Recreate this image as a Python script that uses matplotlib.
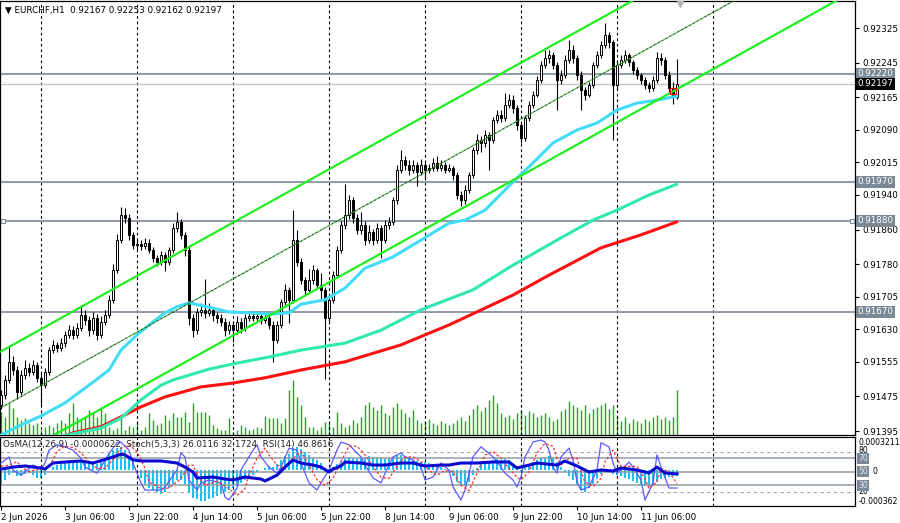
import matplotlib
matplotlib.use("Agg")
import matplotlib.pyplot as plt

# ---------------- data ----------------
symbol_title = "\u25BC EURCHF,H1  0.92167 0.92253 0.92162 0.92197"
ind_title = "OsMA(12,26,9) -0.0000622  Stoch(5,3,3) 26.0116 32.1724  RSI(14) 46.8616"

first_open = 0.91455
closes = [0.91478,0.91513,0.91554,0.91536,0.91485,0.91525,0.91541,0.91531,0.91548,0.91518,
          0.91501,0.91531,0.91582,0.91594,0.91587,0.91598,0.91617,0.91628,0.91617,0.91633,
          0.91663,0.91651,0.91628,0.91656,0.91617,0.91647,0.91663,0.91698,0.91767,0.91836,
          0.91894,0.91887,0.91848,0.91825,0.91827,0.91822,0.91829,0.91813,0.91795,0.91785,
          0.91801,0.91785,0.91813,0.91864,0.91878,0.91848,0.91813,0.91656,0.91628,0.91670,
          0.91675,0.91668,0.91675,0.91663,0.91656,0.91647,0.91628,0.91640,0.91628,0.91647,
          0.91633,0.91656,0.91661,0.91656,0.91661,0.91651,0.91656,0.91640,0.91605,0.91640,
          0.91693,0.91721,0.91698,0.91836,0.91785,0.91744,0.91721,0.91744,0.91767,0.91732,
          0.91721,0.91656,0.91698,0.91755,0.91813,0.91871,0.91894,0.91928,0.91887,0.91859,
          0.91871,0.91836,0.91855,0.91836,0.91864,0.91836,0.91871,0.91878,0.91928,0.91998,
          0.92021,0.92009,0.91998,0.92009,0.91993,0.92009,0.91998,0.92002,0.92014,0.92002,
          0.92009,0.91998,0.92002,0.91986,0.91940,0.91928,0.91951,0.91986,0.92044,0.92067,
          0.92060,0.92078,0.92067,0.92113,0.92125,0.92118,0.92148,0.92159,0.92141,0.92101,
          0.92071,0.92118,0.92148,0.92171,0.92205,0.92240,0.92256,0.92263,0.92240,0.92205,
          0.92217,0.92252,0.92275,0.92256,0.92217,0.92182,0.92171,0.92194,0.92240,0.92263,
          0.92286,0.92309,0.92293,0.92194,0.92240,0.92252,0.92263,0.92247,0.92228,0.92217,
          0.92205,0.92194,0.92187,0.92205,0.92256,0.92252,0.92217,0.92187,0.92167,0.92197]
highs = [0.91490,0.91525,0.91590,0.91568,0.91545,0.91535,0.91560,0.91552,0.91560,0.91555,
         0.91528,0.91540,0.91590,0.91605,0.91600,0.91610,0.91625,0.91640,0.91637,0.91645,
         0.91685,0.91675,0.91660,0.91670,0.91665,0.91660,0.91675,0.91710,0.91780,0.91850,
         0.91912,0.91910,0.91895,0.91855,0.91840,0.91835,0.91840,0.91838,0.91820,0.91802,
         0.91810,0.91808,0.91820,0.91875,0.91900,0.91885,0.91855,0.91820,0.91665,0.91680,
         0.91690,0.91745,0.91690,0.91682,0.91670,0.91665,0.91655,0.91650,0.91648,0.91660,
         0.91655,0.91665,0.91670,0.91668,0.91670,0.91668,0.91665,0.91662,0.91648,0.91650,
         0.91700,0.91735,0.91728,0.91905,0.91860,0.91795,0.91750,0.91770,0.91778,0.91772,
         0.91760,0.91728,0.91710,0.91765,0.91822,0.91880,0.91965,0.91940,0.91935,0.91895,
         0.91900,0.91880,0.91870,0.91862,0.91875,0.91870,0.91882,0.91890,0.91935,0.92010,
         0.92044,0.92030,0.92020,0.92020,0.92015,0.92022,0.92015,0.92012,0.92025,0.92030,
         0.92020,0.92015,0.92012,0.92008,0.91992,0.91950,0.91962,0.91992,0.92050,0.92080,
         0.92075,0.92090,0.92085,0.92120,0.92135,0.92135,0.92175,0.92172,0.92170,0.92148,
         0.92108,0.92125,0.92158,0.92180,0.92215,0.92250,0.92275,0.92275,0.92270,0.92248,
         0.92228,0.92262,0.92298,0.92285,0.92262,0.92225,0.92190,0.92200,0.92248,0.92272,
         0.92295,0.92338,0.92315,0.92298,0.92250,0.92262,0.92275,0.92268,0.92252,0.92235,
         0.92222,0.92212,0.92200,0.92215,0.92270,0.92268,0.92258,0.92225,0.92200,0.92253]
lows = [0.91445,0.91470,0.91505,0.91525,0.91470,0.91478,0.91515,0.91522,0.91525,0.91508,
        0.91455,0.91495,0.91525,0.91575,0.91578,0.91580,0.91590,0.91610,0.91608,0.91610,
        0.91625,0.91640,0.91615,0.91620,0.91605,0.91610,0.91640,0.91655,0.91690,0.91760,
        0.91828,0.91875,0.91835,0.91815,0.91815,0.91812,0.91815,0.91805,0.91785,0.91775,
        0.91778,0.91765,0.91778,0.91805,0.91855,0.91838,0.91800,0.91640,0.91612,0.91620,
        0.91660,0.91655,0.91660,0.91650,0.91645,0.91638,0.91615,0.91620,0.91600,0.91620,
        0.91622,0.91625,0.91648,0.91648,0.91650,0.91642,0.91645,0.91630,0.91555,0.91598,
        0.91632,0.91685,0.91645,0.91690,0.91775,0.91735,0.91710,0.91715,0.91735,0.91722,
        0.91700,0.91515,0.91645,0.91690,0.91748,0.91805,0.91862,0.91885,0.91875,0.91850,
        0.91850,0.91825,0.91828,0.91825,0.91830,0.91795,0.91828,0.91862,0.91870,0.91920,
        0.91990,0.91998,0.91985,0.91990,0.91960,0.91985,0.91975,0.91990,0.91995,0.91995,
        0.91995,0.91990,0.91992,0.91975,0.91930,0.91915,0.91920,0.91945,0.91980,0.92035,
        0.92040,0.92050,0.91998,0.92060,0.92105,0.92108,0.92110,0.92140,0.92130,0.92090,
        0.92060,0.92065,0.92110,0.92140,0.92165,0.92198,0.92232,0.92245,0.92230,0.92136,
        0.92195,0.92210,0.92245,0.92245,0.92205,0.92136,0.92160,0.92165,0.92188,0.92232,
        0.92255,0.92280,0.92280,0.92067,0.92185,0.92232,0.92245,0.92238,0.92220,0.92208,
        0.92195,0.92185,0.92178,0.92180,0.92198,0.92240,0.92208,0.92175,0.92150,0.92162]
volumes = [690,540,960,810,540,450,510,360,300,360,150,240,300,240,360,450,360,660,960,540,
           450,540,750,660,540,840,660,240,150,210,510,150,270,240,390,150,240,660,450,300,
           360,600,450,
           660,540,540,690,390,960,690,690,690,600,300,210,150,150,510,90,150,300,240,150,
           180,240,210,570,510,510,510,360,510,1350,1650,1140,900,540,240,240,150,240,390,360,
           240,690,
           360,240,300,450,360,540,900,990,840,750,900,660,600,840,960,780,660,540,750,450,
           360,420,480,360,300,420,360,300,360,450,540,420,600,780,900,720,840,1050,1200,960,
           660,540,600,480,660,750,600,720,660,540,600,660,540,420,480,720,780,1020,900,840,
           750,900,660,780,840,900,960,780,900,600,420,540,360,480,420,360,480,420,540,600,
           480,540,450,540,1350]

ma_fast_idx = [0,5,10,16,22,27,30,34,38,41,44,47,52,57,62,67,72,75,81,86,91,98,105,112,116,121,128,132,138,144,149,154,159,164,169]
ma_fast = [0.91386,0.91409,0.91430,0.91460,0.91501,0.91536,0.91582,0.91617,0.91647,0.91668,0.91682,0.91691,0.91681,0.91670,0.91668,
           0.91665,0.91668,0.91688,0.91698,0.91725,0.91771,0.91797,0.91836,0.91875,0.91882,0.91905,0.91970,0.92005,0.92060,0.92090,
           0.92106,0.92136,0.92152,0.92159,0.92168]
ma_mid_idx = [15,25,30,35,40,43,52,59,67,75,86,95,105,118,128,140,148,154,162,169]
ma_mid = [0.91383,0.91402,0.91425,0.91467,0.91501,0.91513,0.91538,0.91552,0.91566,0.91582,
          0.91598,0.91628,0.91675,0.91721,0.91778,0.91841,0.91882,0.91905,0.91940,0.91965]
ma_slow_idx = [10,18,25,30,35,41,50,58,66,75,86,100,112,128,137,150,160,169]
ma_slow = [0.91363,0.91391,0.91405,0.91428,0.91451,0.91474,0.91497,0.91506,0.91518,0.91536,
           0.91555,0.91594,0.91640,0.91709,0.91755,0.91818,0.91848,0.91878]

chan_idx = [0, 215]
chan_upper = [0.91579, 0.92681]
chan_mid = [0.91449, 0.92551]
chan_lower = [0.91318, 0.92420]

hlines_dark = [0.92220, 0.91970, 0.91880, 0.91670]
bid_price = 0.92197
price_ticks = [0.92325,0.92245,0.92165,0.92090,0.92015,0.91940,0.91860,0.91780,0.91705,0.91630,0.91555,0.91475,0.91395]
marker_bar, marker_price = 168, 0.92180

day_lines = [10, 34, 58, 82, 106, 130, 154, 178]
time_idx = [0, 16, 32, 48, 64, 80, 96, 112, 128, 144, 160]
time_labels = ["2 Jun 2026", "3 Jun 06:00", "3 Jun 22:00", "4 Jun 14:00", "5 Jun 06:00", "5 Jun 22:00",
               "8 Jun 14:00", "9 Jun 06:00", "9 Jun 22:00", "10 Jun 14:00", "11 Jun 06:00"]

osma = [-15e-5,-10e-5,-5e-5,-3e-5,-6e-5,-6e-5,-4e-5,-3e-5,-5e-5,-8e-5,
        -8e-5,-5e-5,0,3e-5,5e-5,6e-5,8e-5,9e-5,8e-5,9e-5,
        10e-5,8e-5,7e-5,8e-5,6e-5,8e-5,12e-5,16e-5,20e-5,22e-5,
        23e-5,20e-5,14e-5,8e-5,0,-8e-5,-14e-5,-18e-5,-20e-5,-22e-5,
        -24e-5,-22e-5,-18e-5,-14e-5,-10e-5,-10e-5,-14e-5,-22e-5,-28e-5,-30e-5,
        -32e-5,-32e-5,-30e-5,-28e-5,-26e-5,-24e-5,-22e-5,-20e-5,-18e-5,-15e-5,
        -13e-5,-10e-5,-8e-5,-5e-5,-2e-5,0,2e-5,4e-5,3e-5,6e-5,
        10e-5,14e-5,16e-5,22e-5,23e-5,21e-5,18e-5,15e-5,12e-5,10e-5,
        7e-5,2e-5,1e-5,3e-5,6e-5,9e-5,11e-5,13e-5,12e-5,11e-5,
        12e-5,13e-5,14e-5,13e-5,13e-5,12e-5,11e-5,12e-5,13e-5,15e-5,
        15e-5,14e-5,12e-5,10e-5,9e-5,8e-5,8e-5,7e-5,6e-5,5e-5,
        3e-5,1e-5,-2e-5,-6e-5,-12e-5,-16e-5,-16e-5,-12e-5,-5e-5,2e-5,
        6e-5,8e-5,9e-5,10e-5,11e-5,10e-5,11e-5,10e-5,6e-5,2e-5,
        -1e-5,2e-5,5e-5,8e-5,10e-5,12e-5,13e-5,14e-5,12e-5,8e-5,
        3e-5,-2e-5,-6e-5,-10e-5,-14e-5,-20e-5,-22e-5,-18e-5,-14e-5,-9e-5,
        -4e-5,0,-1e-5,-4e-5,-5e-5,-6e-5,-8e-5,-9e-5,-11e-5,-13e-5,
        -15e-5,-16e-5,-17e-5,-16e-5,-12e-5,-9e-5,-8e-5,-7e-5,-6e-5,-6.22e-5]

st_idx = [0,2,3,5,6,8,10,11,12,14,16,18,20,21,24,25,27,29,30,32,33,35,36,40,41,44,45,46,47,49,
          50,52,55,56,57,59,60,63,64,65,67,69,70,72,74,75,77,79,80,82,84,85,87,90,91,93,95,96,98,100,
          101,103,105,106,108,110,112,113,115,116,118,120,121,123,125,126,128,129,130,131,
          133,135,136,137,138,139,140,142,143,144,145,147,149,150,152,153,154,155,157,158,
          160,161,163,164,165,167,169]
st_main = [63,72,52.6,45,49.7,60,54,63,82,90,87,82,70,57,48,57,77,93,94,82,63,33.5,23,23,27.6,52.6,78,72,38,23,
           33.5,38,33.5,12.7,8.3,26,52.6,82,90,72,57,48,57,85,82,63,33.5,23,33.5,52.6,82,94,90,72,60,41,33.5,48,72,78,
           72,67.5,57,37.9,42.3,63,52.6,27.6,8.3,23,72,87,82,72,57,48,37.9,27.6,42.3,72,
           94,97,94,82,57,48,72,85,67.5,35,23,27.6,52.6,93,87,63,48,52.6,64.5,57,
           37.9,8.3,33.5,75,57,26,26.01]
sg_idx = [0,2,4,5,7,8,10,12,13,14,16,18,20,22,24,26,28,30,32,34,36,37,40,42,45,47,48,49,51,52,
          54,57,59,61,62,64,66,67,69,71,73,75,77,79,81,83,85,87,89,91,93,95,97,99,101,103,105,107,109,111,
          113,115,117,119,121,123,125,127,129,130,132,134,136,138,139,140,142,144,145,146,
          148,150,151,153,154,155,157,159,161,162,164,165,167,169]
st_signal = [58,60,65,58,50,52,55,58,68,80,88,86,78,65,55,55,68,85,90,80,55,35,25,26,40,60,60,45,30,32,
             36,25,15,25,45,70,85,75,60,55,70,80,60,38,30,40,65,88,88,75,58,42,40,58,72,72,65,52,45,52,
             50,30,22,48,75,80,70,55,42,38,50,78,92,88,70,60,70,70,50,35,
             28,40,65,82,70,58,58,58,40,25,35,55,50,32.17]
rsi_idx = [0,3,6,10,11,13,16,20,23,27,30,31,33,35,40,44,46,48,49,53,56,58,61,65,66,69,71,73,75,78,
           80,82,83,85,86,90,93,96,100,103,106,110,112,115,119,123,127,129,130,134,139,141,144,147,150,
           153,155,159,162,164,166,169]
rsi = [54,57,58.6,55.6,54,63,64.5,66,63,70,76,75,67.5,66,66,63,57,49.7,40.8,42.3,39.3,37.9,42.3,39.3,36.4,45,57,67.5,63,60,
       57,49.7,54,58.6,64.5,63,60,60,63,63,58.6,60,60,63,63,64.5,64.5,55.6,57,63,60,66,58.6,49.7,52.7,
       51.2,55.6,52.7,48.2,57,48.2,46.86]

# ---------------- layout ----------------
W, H = 900, 523
fig = plt.figure(figsize=(W / 100, H / 100), dpi=100, facecolor="white")


def fpos(x0, y0, x1, y1):
    return [x0 / W, 1 - y1 / H, (x1 - x0) / W, (y1 - y0) / H]


FS = 6.3
FS_SMALL = 5.6
XL = (-0.25, 213.5)

ax_v = fig.add_axes(fpos(0, 1, 855, 435), zorder=1)
ax = fig.add_axes(fpos(0, 1, 855, 435), zorder=2)
ax.patch.set_visible(False)
for a in (ax, ax_v):
    a.set_xlim(*XL)
ax.set_ylim(0.913860, 0.923877)
ax_v.set_ylim(0, 13020)
ax_v.set_xticks([]); ax_v.set_yticks([])
for s in ax_v.spines.values():
    s.set_visible(False)

# volumes
n = len(closes)
idx = list(range(n))
ax_v.vlines(idx, 0, volumes, color="#2f9a2f", lw=1.0)

# grid verticals
for d in day_lines:
    ax.axvline(d, color="black", lw=0.8, ls=(0, (2.5, 2.5)), zorder=1)

# horizontal lines
for p in hlines_dark:
    ax.axhline(p, color="#8693a1", lw=1.3, zorder=2)
ax.axhline(bid_price, color="#c4c8cc", lw=1.0, zorder=2)
ax.plot([3 / 855, 852 / 855], [0.91880, 0.91880], "s", mfc="white", mec="#7b8896", ms=3.5, mew=0.8,
        transform=ax.get_yaxis_transform(), zorder=3, clip_on=False)

# candles
opens = [first_open] + closes[:-1]
bottoms = [min(o, c) for o, c in zip(opens, closes)]
heights = [max(abs(c - o), 0.000012) for o, c in zip(opens, closes)]
fcs = ["white" if c >= o else "black" for o, c in zip(opens, closes)]
ax.vlines(idx, lows, highs, color="black", lw=0.8, zorder=4)
ax.bar(idx, heights, width=0.7, bottom=bottoms, color=fcs, edgecolor="black", linewidth=0.7, zorder=5)

# moving averages
ax.plot(ma_slow_idx, ma_slow, color="#ff1010", lw=2.2, zorder=6, solid_capstyle="round", solid_joinstyle="round")
ax.plot(ma_mid_idx, ma_mid, color="#30e8b0", lw=2.2, zorder=6, solid_capstyle="round", solid_joinstyle="round")
ax.plot(ma_fast_idx, ma_fast, color="#40dcf8", lw=2.2, zorder=6, solid_capstyle="round", solid_joinstyle="round")

# channel
ax.plot(chan_idx, chan_upper, color="#1fee1f", lw=1.6, zorder=7)
ax.plot(chan_idx, chan_lower, color="#1fee1f", lw=1.6, zorder=7)
ax.plot(chan_idx, chan_mid, color="#333333", lw=0.8, ls=(0, (2, 2)), zorder=7)
ax.plot(chan_idx, chan_mid, color="#22cc22", lw=0.8, ls=(2, (2, 2)), zorder=7)

ax.plot([marker_bar], [marker_price], "s", mfc="none", mec="red", ms=5, mew=0.9, zorder=8)
ax.plot([680 / 855], [0.992], marker="v", color="#b5b5b5", ms=5, transform=ax.transAxes, clip_on=False, zorder=8)

# axes styling main
ax.set_xticks([])
ax.yaxis.tick_right()
ax.set_yticks(price_ticks)
ax.set_yticklabels([f"{p:.5f}" for p in price_ticks])
ax.tick_params(axis="y", direction="out", length=3, width=0.8, labelsize=FS, pad=2, colors="black")
for s in ax.spines.values():
    s.set_linewidth(0.9)
    s.set_color("black")

ytr = ax.get_yaxis_transform()
for p in hlines_dark:
    ax.text(1.003, p, f"{p:.5f}", transform=ytr, fontsize=FS, color="white", va="center", ha="left",
            bbox=dict(boxstyle="square,pad=0.18", fc="#7b8896", ec="none"), clip_on=False, zorder=10)
ax.text(1.003, bid_price, f"{bid_price:.5f}", transform=ytr, fontsize=FS, color="white", va="center", ha="left",
        bbox=dict(boxstyle="square,pad=0.18", fc="black", ec="none"), clip_on=False, zorder=10)

fig.text(5 / W, 1 - 10 / H, symbol_title, fontsize=FS, va="center", ha="left", color="black")

# ---------------- indicator panel ----------------
ind_o = fig.add_axes(fpos(0, 437, 855, 506), zorder=1)
ind = fig.add_axes(fpos(0, 437, 855, 506), zorder=2)
ind.patch.set_visible(False)
for a in (ind, ind_o):
    a.set_xlim(*XL)
ind.set_ylim(-0.6, 101.5)
ind_o.set_ylim(-0.0003659, 0.0003315)
ind_o.set_xticks([]); ind_o.set_yticks([])
for s in ind_o.spines.values():
    s.set_visible(False)

for lv in (80, 20):
    ind.axhline(lv, color="#a8a8a8", lw=0.8, ls=(0, (3, 3)), zorder=1)
for lv in (70, 50, 30):
    ind.axhline(lv, color="#8f9aa6", lw=1.1, zorder=1)
for d in day_lines:
    ind.axvline(d, color="black", lw=0.8, ls=(0, (2.5, 2.5)), zorder=1)

ind_o.bar(idx, osma, width=0.55, color="#1cc0f4", zorder=2)
ind.plot(st_idx, st_main, color="#5a5aff", lw=0.9, zorder=3)
ind.plot(sg_idx, st_signal, color="#ff3030", lw=0.9, ls=(0, (2, 1.6)), zorder=3)
ind.plot(rsi_idx, rsi, color="#0a0ad0", lw=2.2, zorder=4)

ind.set_yticks([])
ind.set_xticks(time_idx)
ind.set_xticklabels(time_labels, ha="left")
ind.tick_params(axis="x", direction="out", length=3, width=0.8, labelsize=FS, pad=2, colors="black")
for s in ind.spines.values():
    s.set_linewidth(0.9)
    s.set_color("black")

itr = ind.get_yaxis_transform()
ind.text(1.004, 93.5, "0.0003211", transform=itr, fontsize=FS_SMALL, va="center", ha="left", clip_on=False)
ind.text(1.004, 6.5, "-0.000362", transform=itr, fontsize=FS_SMALL, va="center", ha="left", clip_on=False)
ind.text(1.004, 81, "80", transform=itr, fontsize=FS_SMALL, va="center", ha="left", clip_on=False)
ind.text(1.004, 20.5, "20", transform=itr, fontsize=FS_SMALL, va="center", ha="left", clip_on=False)
ind.text(1.004 + 14 / 855, 50, "0", transform=itr, fontsize=FS_SMALL, va="center", ha="left", clip_on=False)
for lv in (70, 50, 30):
    ind.text(1.004, lv, f"{lv}", transform=itr, fontsize=FS_SMALL, color="#e8e8e8", va="center", ha="left",
             bbox=dict(boxstyle="square,pad=0.15", fc="#7b8896", ec="none"), clip_on=False, zorder=10)

fig.text(3 / W, 1 - 444 / H, ind_title, fontsize=FS, va="center", ha="left", color="#222222")

fig.savefig("out.png", dpi=100, facecolor="white")
